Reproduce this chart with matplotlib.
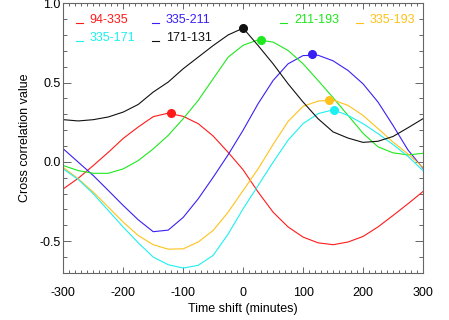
import numpy as np
import matplotlib
matplotlib.use("Agg")
import matplotlib.pyplot as plt
from matplotlib.ticker import MultipleLocator, FormatStrFormatter

plt.rcParams['font.family'] = ['Liberation Sans', 'DejaVu Sans']
plt.rcParams['axes.unicode_minus'] = False

# time shift grid (minutes)
t = list(range(-300, 301, 25))

# cross correlation values
red_94_335 = [-0.17, -0.103, -0.023, 0.06, 0.148, 0.22, 0.285, 0.307, 0.287, 0.241, 0.163, 0.06,
              -0.05, -0.19, -0.317, -0.41, -0.474, -0.51, -0.522, -0.505, -0.47, -0.41, -0.338, -0.264, -0.187]
blue_335_211 = [0.082, -0.002, -0.086, -0.18, -0.275, -0.365, -0.44, -0.43, -0.35, -0.233, -0.097, 0.045,
                0.2, 0.367, 0.513, 0.618, 0.67, 0.672, 0.637, 0.576, 0.492, 0.377, 0.23, 0.075, -0.04]
green_211_193 = [-0.023, -0.055, -0.072, -0.072, -0.044, 0.008, 0.082, 0.167, 0.272, 0.387, 0.524, 0.66,
                 0.735, 0.769, 0.755, 0.702, 0.618, 0.513, 0.405, 0.293, 0.18, 0.095, 0.057, 0.044, 0.054]
orange_335_193 = [-0.035, -0.107, -0.19, -0.285, -0.38, -0.464, -0.522, -0.55, -0.548, -0.505, -0.432, -0.317,
                  -0.18, -0.044, 0.11, 0.255, 0.35, 0.383, 0.39, 0.356, 0.293, 0.21, 0.125, 0.05, -0.034]
cyan_335_171 = [-0.045, -0.111, -0.201, -0.306, -0.411, -0.51, -0.60, -0.648, -0.669, -0.652, -0.589, -0.455,
                -0.295, -0.149, -0.002, 0.137, 0.241, 0.304, 0.328, 0.293, 0.241, 0.178, 0.11, 0.035, -0.055]
black_171_131 = [0.266, 0.258, 0.266, 0.283, 0.314, 0.362, 0.44, 0.503, 0.587, 0.66, 0.733, 0.80,
                 0.843, 0.733, 0.618, 0.492, 0.377, 0.272, 0.189, 0.15, 0.123, 0.13, 0.16, 0.215, 0.272]

# peak positions (minutes, value)
peak_t = [-120, 115, 30, 144, 152, 0]
peak_v = [0.308, 0.678, 0.771, 0.39, 0.329, 0.843]

names = ['94-335', '335-211', '211-193', '335-193', '335-171', '171-131']
colors = ['#ff1a1a', '#3a1ff5', '#1ee81e', '#ffc21a', '#1ef0f0', '#111111']
series = [red_94_335, blue_335_211, green_211_193, orange_335_193, cyan_335_171, black_171_131]

fig = plt.figure(figsize=(4.49, 3.2), dpi=100)
ax = fig.add_axes([0.141, 0.147, 0.801, 0.843])

for y, c in zip(series, colors):
    ax.plot(t, y, color=c, lw=0.8)
for pt, pv, c in zip(peak_t, peak_v, colors):
    ax.plot(pt, pv, 'o', color=c, ms=5.5, mec=c)

# legend, IDL style: short line then coloured label
leg_pos = [(0.035, 0.938), (0.247, 0.938), (0.603, 0.938), (0.814, 0.938),
           (0.035, 0.871), (0.247, 0.871)]
for (lx, ly), name, c in zip(leg_pos, names, colors):
    ax.plot([lx, lx + 0.02], [ly - 0.012, ly - 0.012], color=c, lw=0.8, transform=ax.transAxes)
    ax.text(lx + 0.038, ly, name, color=c, fontsize=9, va='center', ha='left', transform=ax.transAxes)

ax.set_xlim(-300, 300)
ax.set_ylim(-0.7, 1.0)
ax.xaxis.set_major_locator(MultipleLocator(100))
ax.xaxis.set_minor_locator(MultipleLocator(10))
ax.yaxis.set_major_locator(MultipleLocator(0.5))
ax.yaxis.set_minor_locator(MultipleLocator(0.1))
ax.yaxis.set_major_formatter(FormatStrFormatter('%.1f'))

for s in ax.spines.values():
    s.set_color('0.4')
    s.set_linewidth(0.8)
ax.tick_params(which='both', direction='in', top=True, right=True, color='0.4', width=0.7, labelsize=9)
ax.tick_params(axis='x', which='major', length=4, pad=10)
ax.tick_params(axis='x', which='minor', length=2)
ax.tick_params(axis='y', which='major', length=6, pad=2)
ax.tick_params(axis='y', which='minor', length=3)

ax.set_xlabel('Time shift (minutes)', fontsize=9, labelpad=3)
ax.set_ylabel('Cross correlation value', fontsize=9, labelpad=6)

fig.savefig('out.png', dpi=100)
